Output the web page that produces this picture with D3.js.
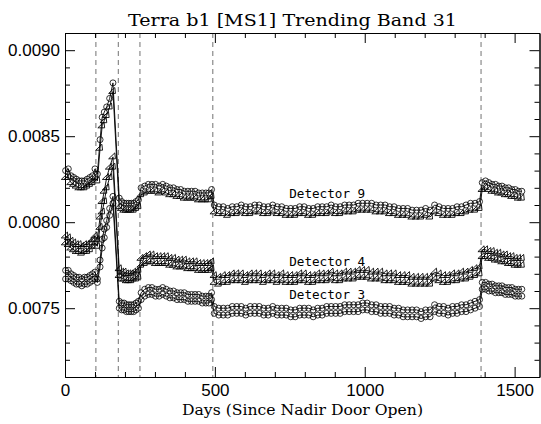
<!DOCTYPE html>
<html><head><meta charset="utf-8">
<script src="https://cdn.jsdelivr.net/npm/d3@7"></script>
<style>body{margin:0;background:#fff}svg{display:block}</style>
</head><body><svg id="c" width="541" height="424"></svg>
<script>
const days = [2,11,20,29,38,47,56,65,74,83,92,100,108,
 117,124,131,139,149,160,
 181,189,197,205,213,221,229,237,245,
 254,266,278,290,302,314,326,338,350,362,374,386,398,410,422,434,446,458,470,480,489,
 498,513,528,543,558,573,588,603,618,633,648,663,678,693,708,723,738,753,768,783,798,813,828,843,858,873,888,903,918,933,948,963,978,993,1008,1023,1038,1053,1068,1083,1098,1113,1128,1143,1158,1173,1188,1203,1218,1233,1248,1263,1278,1293,1308,1323,1338,1353,1368,1383,
 1392,1403,1414,1425,1436,1447,1458,1469,1480,1491,1502,1513,1524];

const det9a = [0.00830,0.00831,0.00827,0.00826,0.00825,0.00824,0.00824,0.00824,0.00825,0.00826,0.00827,0.00831,0.00828,
 0.00848,0.00861,0.00864,0.00867,0.00872,0.00881,
 0.00814,0.00812,0.00811,0.00811,0.00811,0.00811,0.00811,0.00812,0.00813,
 0.00820,0.00821,0.00822,0.00822,0.00822,0.00821,0.00822,0.00821,0.00820,0.00820,0.00819,0.00819,0.00818,0.00818,0.00818,0.00818,0.00817,0.00817,0.00817,0.00817,0.00819,
 0.00810,0.00809,0.00809,0.00808,0.00809,0.00809,0.00810,0.00809,0.00809,0.00810,
 0.00810,0.00809,0.00809,0.00810,0.00809,0.00809,0.00808,0.00808,0.00808,0.00809,
 0.00809,0.00808,0.00808,0.00809,0.00809,0.00809,0.00810,0.00809,0.00809,0.00810,
 0.00810,0.00810,0.00811,0.00811,0.00811,0.00811,0.00810,0.00810,0.00810,0.00809,
 0.00809,0.00808,0.00808,0.00808,0.00807,0.00807,0.00807,0.00808,0.00807,0.00810,
 0.00809,0.00808,0.00808,0.00808,0.00809,0.00809,0.00810,0.00811,0.00811,0.00812,
 0.00823,0.00824,0.00823,0.00822,0.00822,0.00821,0.00821,0.00820,0.00820,0.00819,0.00819,0.00818,0.00818];

const det9b = [0.00826,0.00826,0.00823,0.00822,0.00821,0.00820,0.00820,0.00820,0.00821,0.00822,0.00823,0.00826,0.00824,
 0.00843,0.00856,0.00859,0.00862,0.00867,0.00876,
 0.00809,0.00808,0.00807,0.00807,0.00807,0.00807,0.00807,0.00808,0.00809,
 0.00816,0.00817,0.00818,0.00818,0.00818,0.00817,0.00818,0.00817,0.00816,0.00816,0.00815,0.00815,0.00814,0.00814,0.00814,0.00814,0.00813,0.00813,0.00813,0.00813,0.00815,
 0.00806,0.00805,0.00805,0.00804,0.00805,0.00805,0.00806,0.00805,0.00805,0.00806,
 0.00806,0.00805,0.00805,0.00806,0.00805,0.00805,0.00804,0.00804,0.00804,0.00805,
 0.00805,0.00804,0.00804,0.00805,0.00805,0.00805,0.00806,0.00805,0.00805,0.00806,
 0.00806,0.00806,0.00807,0.00807,0.00807,0.00807,0.00806,0.00806,0.00806,0.00805,
 0.00805,0.00804,0.00804,0.00804,0.00803,0.00803,0.00803,0.00804,0.00803,0.00806,
 0.00805,0.00804,0.00804,0.00804,0.00805,0.00805,0.00806,0.00807,0.00807,0.00808,
 0.00819,0.00820,0.00819,0.00818,0.00818,0.00817,0.00817,0.00816,0.00816,0.00815,0.00815,0.00814,0.00814];

const det4a = [0.00792,0.00791,0.00789,0.00788,0.00787,0.00787,0.00786,0.00787,0.00787,0.00788,0.00790,0.00792,0.00790,
 0.00803,0.00812,0.00818,0.00826,0.00832,0.00838,
 0.00773,0.00771,0.00771,0.00770,0.00770,0.00770,0.00771,0.00771,0.00772,
 0.00779,0.00780,0.00781,0.00781,0.00780,0.00780,0.00780,0.00780,0.00779,0.00779,0.00778,0.00778,0.00778,0.00777,0.00777,0.00777,0.00776,0.00776,0.00776,0.00776,0.00777,
 0.00769,0.00768,0.00769,0.00769,0.00770,0.00770,0.00770,0.00769,0.00770,0.00770,
 0.00770,0.00769,0.00770,0.00770,0.00769,0.00770,0.00769,0.00769,0.00769,0.00770,
 0.00770,0.00769,0.00769,0.00770,0.00770,0.00770,0.00771,0.00770,0.00770,0.00771,
 0.00771,0.00771,0.00772,0.00772,0.00772,0.00771,0.00771,0.00771,0.00770,0.00770,
 0.00770,0.00769,0.00769,0.00769,0.00768,0.00768,0.00768,0.00768,0.00768,0.00771,
 0.00770,0.00769,0.00769,0.00770,0.00770,0.00771,0.00771,0.00772,0.00773,0.00774,
 0.00784,0.00784,0.00783,0.00783,0.00782,0.00782,0.00781,0.00781,0.00780,0.00780,0.00779,0.00779,0.00779];

const det4b = [0.00788,0.00787,0.00785,0.00784,0.00783,0.00783,0.00782,0.00783,0.00783,0.00784,0.00786,0.00788,0.00786,
 0.00797,0.00806,0.00812,0.00820,0.00826,0.00832,
 0.00769,0.00767,0.00767,0.00766,0.00766,0.00766,0.00767,0.00767,0.00768,
 0.00775,0.00776,0.00777,0.00777,0.00776,0.00776,0.00776,0.00776,0.00775,0.00775,0.00774,0.00774,0.00774,0.00773,0.00773,0.00773,0.00772,0.00772,0.00772,0.00772,0.00773,
 0.00765,0.00764,0.00765,0.00765,0.00766,0.00766,0.00766,0.00765,0.00766,0.00766,
 0.00766,0.00765,0.00766,0.00766,0.00765,0.00766,0.00765,0.00765,0.00765,0.00766,
 0.00766,0.00765,0.00765,0.00766,0.00766,0.00766,0.00767,0.00766,0.00766,0.00767,
 0.00767,0.00767,0.00768,0.00768,0.00768,0.00767,0.00767,0.00767,0.00766,0.00766,
 0.00766,0.00765,0.00765,0.00765,0.00764,0.00764,0.00764,0.00764,0.00764,0.00767,
 0.00766,0.00765,0.00765,0.00766,0.00766,0.00767,0.00767,0.00768,0.00769,0.00770,
 0.00780,0.00780,0.00779,0.00779,0.00778,0.00778,0.00777,0.00777,0.00776,0.00776,0.00775,0.00775,0.00775];

const det3a = [0.00772,0.00772,0.00770,0.00769,0.00768,0.00768,0.00767,0.00768,0.00768,0.00769,0.00770,0.00771,0.00767,
 0.00778,0.00790,0.00796,0.00801,0.00808,0.00815,
 0.00754,0.00753,0.00753,0.00752,0.00752,0.00752,0.00752,0.00753,0.00754,
 0.00759,0.00761,0.00762,0.00762,0.00761,0.00761,0.00762,0.00761,0.00760,0.00760,0.00759,0.00759,0.00759,0.00758,0.00758,0.00758,0.00758,0.00757,0.00757,0.00757,0.00759,
 0.00751,0.00750,0.00750,0.00750,0.00751,0.00751,0.00751,0.00750,0.00751,0.00751,
 0.00751,0.00750,0.00750,0.00751,0.00750,0.00750,0.00750,0.00749,0.00749,0.00750,
 0.00750,0.00750,0.00749,0.00750,0.00750,0.00751,0.00751,0.00751,0.00751,0.00752,
 0.00752,0.00752,0.00752,0.00753,0.00753,0.00752,0.00752,0.00751,0.00751,0.00751,
 0.00750,0.00750,0.00749,0.00749,0.00749,0.00749,0.00748,0.00749,0.00749,0.00752,
 0.00751,0.00751,0.00750,0.00751,0.00751,0.00752,0.00752,0.00753,0.00754,0.00755,
 0.00765,0.00765,0.00764,0.00764,0.00763,0.00763,0.00763,0.00762,0.00762,0.00762,0.00761,0.00761,0.00761];

const det3b = [0.00767,0.00767,0.00766,0.00765,0.00764,0.00764,0.00763,0.00764,0.00764,0.00765,0.00766,0.00767,0.00765,
 0.00774,0.00785,0.00791,0.00797,0.00804,0.00811,
 0.00750,0.00749,0.00749,0.00748,0.00748,0.00748,0.00748,0.00749,0.00750,
 0.00755,0.00757,0.00758,0.00758,0.00757,0.00757,0.00758,0.00757,0.00756,0.00756,0.00755,0.00755,0.00755,0.00754,0.00754,0.00754,0.00754,0.00753,0.00753,0.00753,0.00755,
 0.00747,0.00746,0.00746,0.00746,0.00747,0.00747,0.00747,0.00746,0.00747,0.00747,
 0.00747,0.00746,0.00746,0.00747,0.00746,0.00746,0.00746,0.00745,0.00745,0.00746,
 0.00746,0.00746,0.00745,0.00746,0.00746,0.00747,0.00747,0.00747,0.00747,0.00748,
 0.00748,0.00748,0.00748,0.00749,0.00749,0.00748,0.00748,0.00747,0.00747,0.00747,
 0.00746,0.00746,0.00745,0.00745,0.00745,0.00745,0.00744,0.00745,0.00745,0.00748,
 0.00747,0.00747,0.00746,0.00747,0.00747,0.00748,0.00748,0.00749,0.00750,0.00751,
 0.00761,0.00761,0.00760,0.00760,0.00759,0.00759,0.00759,0.00758,0.00758,0.00758,0.00757,0.00757,0.00757];

const xMajorTicks = [0, 500, 1000, 1500];
const xMinorTicks = [100,200,300,400,600,700,800,900,1100,1200,1300,1400];
const yMajorTicks = [0.0075, 0.0080, 0.0085, 0.0090];
const yMinorTicks = [0.0072,0.0073,0.0074,0.0076,0.0077,0.0078,0.0079,0.0081,0.0082,0.0083,0.0084,0.0086,0.0087,0.0088,0.0089];
const eventDays = [103, 178, 250, 493, 1388];
const seriesNames = ["Detector 9", "Detector 4", "Detector 3"];
const labelDay = [748, 748, 748];
const labelValue = [0.008141, 0.007745, 0.007553];
const titleText = "Terra b1 [MS1] Trending Band 31";
const xTitle = "Days (Since Nadir Door Open)";

const svg = d3.select("#c");
const L = 65, R = 539.5, T = 33, B = 377;
const x = d3.scaleLinear().domain([0, 1583]).range([L, R]);
const y = d3.scaleLinear().domain([0.0071, 0.0091]).range([B, T]);

// event dashed lines
svg.append("g").selectAll("line").data(eventDays).join("line")
  .attr("x1", d => x(d)).attr("x2", d => x(d))
  .attr("y1", T).attr("y2", B)
  .attr("stroke", "#8a8a8a").attr("stroke-width", 1.2)
  .attr("stroke-dasharray", "5,4");

const series = [
  {v: det9a, sym: "circle"}, {v: det9b, sym: "tri"},
  {v: det4a, sym: "tri"}, {v: det4b, sym: "tri"},
  {v: det3a, sym: "circle"}, {v: det3b, sym: "circle"}
];
const line = d3.line().x((d, i) => x(days[i])).y(d => y(d));
const gData = svg.append("g");
series.forEach(s => {
  gData.append("path").attr("d", line(s.v)).attr("fill", "none")
    .attr("stroke", "#000").attr("stroke-width", 0.9);
});
const tri = d3.symbol().type(d3.symbolTriangle).size(20);
series.forEach(s => {
  const g = gData.append("g");
  if (s.sym === "circle") {
    g.selectAll("circle").data(s.v).join("circle")
      .attr("cx", (d, i) => x(days[i])).attr("cy", d => y(d)).attr("r", 3)
      .attr("fill", "none").attr("stroke", "#000").attr("stroke-width", 0.8);
  } else {
    g.selectAll("path").data(s.v).join("path")
      .attr("d", tri)
      .attr("transform", (d, i) => `translate(${x(days[i])},${y(d)}) skewX(-25)`)
      .attr("fill", "none").attr("stroke", "#000").attr("stroke-width", 0.8);
  }
});

// labels
svg.append("g").selectAll("text").data(seriesNames).join("text")
  .attr("x", (d, i) => x(labelDay[i])).attr("y", (d, i) => y(labelValue[i]))
  .attr("font-family", "DejaVu Sans Mono").attr("font-size", 12.6)
  .attr("textLength", 76).attr("lengthAdjust", "spacingAndGlyphs")
  .text(d => d);

// axes
function styleAxis(g) {
  g.selectAll("path.domain").attr("stroke", "#000").attr("stroke-width", 1);
  g.selectAll(".tick line").attr("stroke", "#000").attr("stroke-width", 1);
  g.selectAll("text").attr("font-family", "Liberation Sans").attr("font-size", 17).attr("fill", "#000");
}
svg.append("g").attr("transform", `translate(${L},0)`)
  .call(d3.axisLeft(y).tickValues(yMajorTicks).tickSize(-10).tickSizeOuter(0).tickPadding(5).tickFormat(d3.format(".4f"))).call(styleAxis);
svg.append("g").attr("transform", `translate(${L},0)`)
  .call(d3.axisLeft(y).tickValues(yMinorTicks).tickSize(-5).tickSizeOuter(0).tickFormat("")).call(styleAxis);
svg.append("g").attr("transform", `translate(${R},0)`)
  .call(d3.axisRight(y).tickValues(yMajorTicks).tickSize(-10).tickSizeOuter(0).tickFormat("")).call(styleAxis);
svg.append("g").attr("transform", `translate(${R},0)`)
  .call(d3.axisRight(y).tickValues(yMinorTicks).tickSize(-5).tickSizeOuter(0).tickFormat("")).call(styleAxis);
svg.append("g").attr("transform", `translate(0,${B})`)
  .call(d3.axisBottom(x).tickValues(xMajorTicks).tickSize(-10).tickSizeOuter(0).tickPadding(7).tickFormat(d3.format("d"))).call(styleAxis);
svg.append("g").attr("transform", `translate(0,${B})`)
  .call(d3.axisBottom(x).tickValues(xMinorTicks).tickSize(-5).tickSizeOuter(0).tickFormat("")).call(styleAxis);
svg.append("g").attr("transform", `translate(0,${T})`)
  .call(d3.axisTop(x).tickValues(xMajorTicks).tickSize(-10).tickSizeOuter(0).tickFormat("")).call(styleAxis);
svg.append("g").attr("transform", `translate(0,${T})`)
  .call(d3.axisTop(x).tickValues(xMinorTicks).tickSize(-5).tickSizeOuter(0).tickFormat("")).call(styleAxis);

// titles
svg.append("text").attr("x", 292.5).attr("y", 26).attr("text-anchor", "middle")
  .attr("font-family", "DejaVu Serif").attr("font-size", 17)
  .attr("textLength", 329).attr("lengthAdjust", "spacingAndGlyphs").text(titleText);
svg.append("text").attr("x", 302.5).attr("y", 415).attr("text-anchor", "middle")
  .attr("font-family", "DejaVu Serif").attr("font-size", 15.5)
  .attr("textLength", 241).attr("lengthAdjust", "spacingAndGlyphs").text(xTitle);
</script></body></html>
